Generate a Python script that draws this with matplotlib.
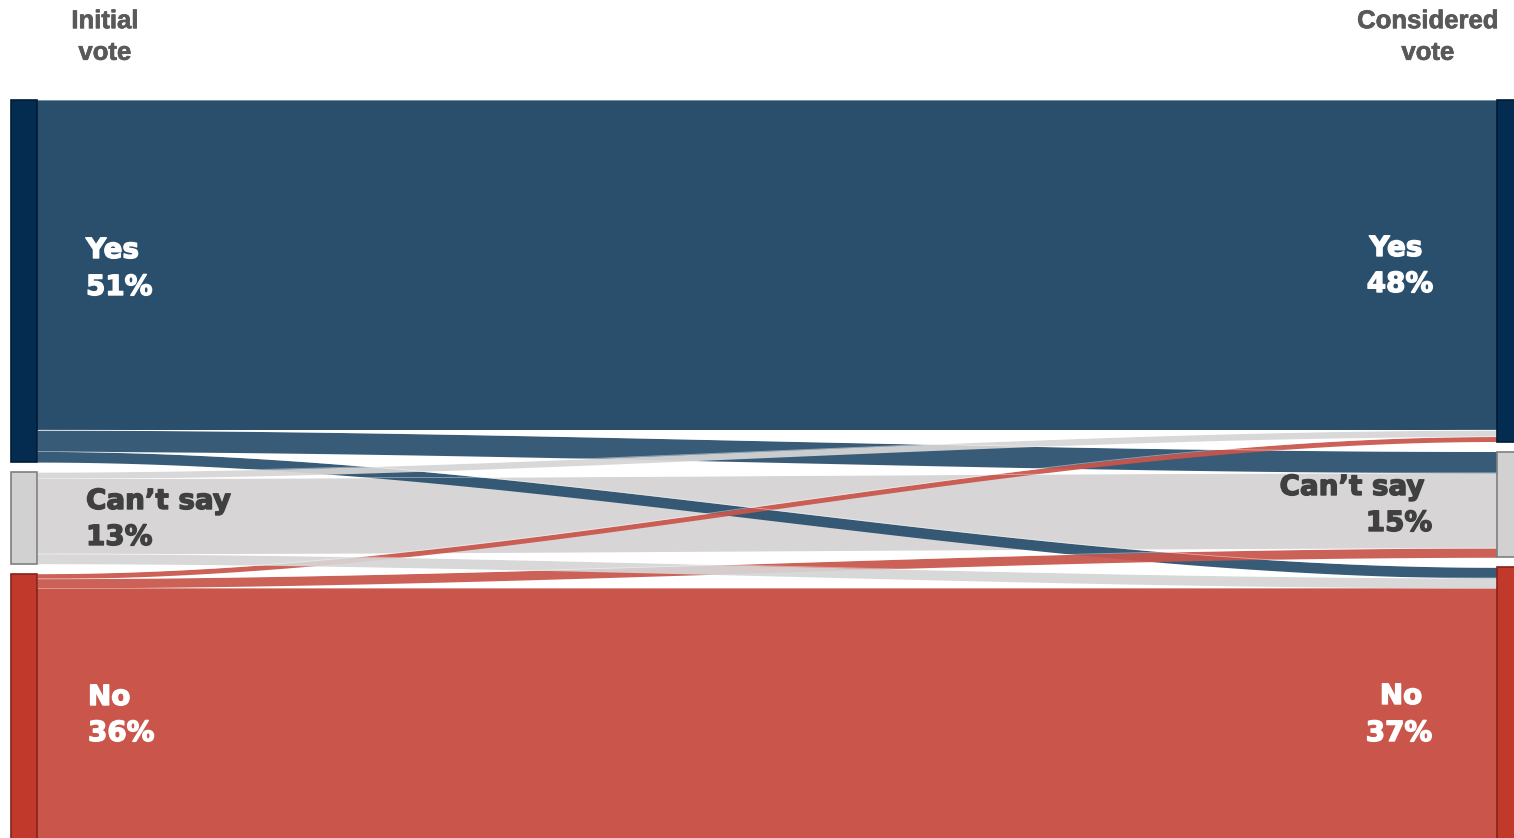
import numpy as np
from matplotlib import pyplot as plt
from matplotlib.patches import Rectangle
import matplotlib.patheffects as pe

# vote shares (%)
categories = ["Yes", "Can’t say", "No"]
initial_pct = [51, 13, 36]
considered_pct = [48, 15, 37]

# flows[i][j]: share moving from initial i to considered j (%)
flows = [[46.5, 3.0, 1.5],
         [0.9, 10.6, 1.4],
         [0.7, 1.3, 34.0]]

flow_colors = ["#294f6d", "#d7d5d6", "#c9554b"]
node_colors = ["#042c50", "#d2d1d2", "#c0392b"]
node_edges = ["#021b33", "#7f7f7f", "#86231a"]
text_colors = ["white", "#404040", "white"]

# layout (pixels)
W, H = 1514, 838
top = 100
gap = 10
k = 7.1  # px per percent
node_w = 26
left_x = 11
right_x = 1497

fig = plt.figure(figsize=(W / 100, H / 100), dpi=100)
ax = fig.add_axes([0, 0, 1, 1])
ax.set_xlim(0, W)
ax.set_ylim(H, 0)
ax.axis("off")

fl = np.array(flows)
n = len(categories)


def node_tops(sizes):
    tops = []
    y = top
    for s in sizes:
        tops.append(y)
        y += s * k + gap
    return tops


left_sizes = fl.sum(axis=1)
right_sizes = fl.sum(axis=0)
left_tops = node_tops(left_sizes)
right_tops = node_tops(right_sizes)

# where each flow leaves / arrives
out_y = np.zeros((n, n))
in_y = np.zeros((n, n))
for i in range(n):
    y = left_tops[i]
    for j in range(n):
        out_y[i, j] = y
        y += fl[i, j] * k
for j in range(n):
    y = right_tops[j]
    for i in range(n):
        in_y[i, j] = y
        y += fl[i, j] * k

x0 = left_x + node_w
x1 = right_x
xs = np.linspace(x0, x1, 300)
t = (xs - x0) / (x1 - x0)
s = 3 * t ** 2 - 2 * t ** 3

# big bands first, then the small crossing ones
order = [(0, 0), (2, 2), (1, 1), (0, 1), (0, 2), (2, 0), (2, 1), (1, 0), (1, 2)]
for i, j in order:
    h = fl[i, j] * k
    a_top, b_top = out_y[i, j], in_y[i, j]
    a_bot, b_bot = a_top + h, b_top + h
    if i == n - 1 and j == n - 1:
        # bottom band runs off the frame
        a_bot = b_bot = H + 5
    y_top = a_top + (b_top - a_top) * s
    y_bot = a_bot + (b_bot - a_bot) * s
    alpha = 1.0 if i == j else 0.93
    ax.fill_between(xs, y_top, y_bot, color=flow_colors[i], alpha=alpha, lw=0)
    ax.plot(xs, y_top, color="white", lw=0.6, alpha=0.45)

# nodes
for i in range(n):
    for tops, sizes, x in ((left_tops, left_sizes, left_x), (right_tops, right_sizes, right_x)):
        h = sizes[i] * k
        if i == n - 1:
            h = H + 5 - tops[i]
        ax.add_patch(Rectangle((x, tops[i]), node_w, h, facecolor=node_colors[i],
                               edgecolor=node_edges[i], lw=1.2, zorder=3))

# labels
lab_font = dict(family="DejaVu Sans", fontweight="bold", fontsize=20)
left_label_x = [86, 86, 88]
left_label_y = [(250, 287), (501, 537), (697, 733)]
right_label_x = [(1396, 1400), (1352, 1399), (1401, 1399)]
right_label_y = [(248, 284), (487, 523), (696, 733)]
for i in range(n):
    fx = [pe.withStroke(linewidth=1.0, foreground=text_colors[i])]
    ax.text(left_label_x[i], left_label_y[i][0], categories[i], ha="left", va="center",
            color=text_colors[i], path_effects=fx, **lab_font)
    ax.text(left_label_x[i], left_label_y[i][1], f"{initial_pct[i]}%", ha="left", va="center",
            color=text_colors[i], path_effects=fx, **lab_font)
    ax.text(right_label_x[i][0], right_label_y[i][0], categories[i], ha="center", va="center",
            color=text_colors[i], path_effects=fx, **lab_font)
    ax.text(right_label_x[i][1], right_label_y[i][1], f"{considered_pct[i]}%", ha="center", va="center",
            color=text_colors[i], path_effects=fx, **lab_font)

head_font = dict(family="Liberation Sans", fontweight="bold", fontsize=18.5, color="#595959",
                 ha="center", va="center", linespacing=1.4,
                 path_effects=[pe.withStroke(linewidth=0.5, foreground="#595959")])
ax.text(105, 37, "Initial\nvote", **head_font)
ax.text(1428, 37, "Considered\nvote", **head_font)

fig.savefig("out.png", dpi=100)
